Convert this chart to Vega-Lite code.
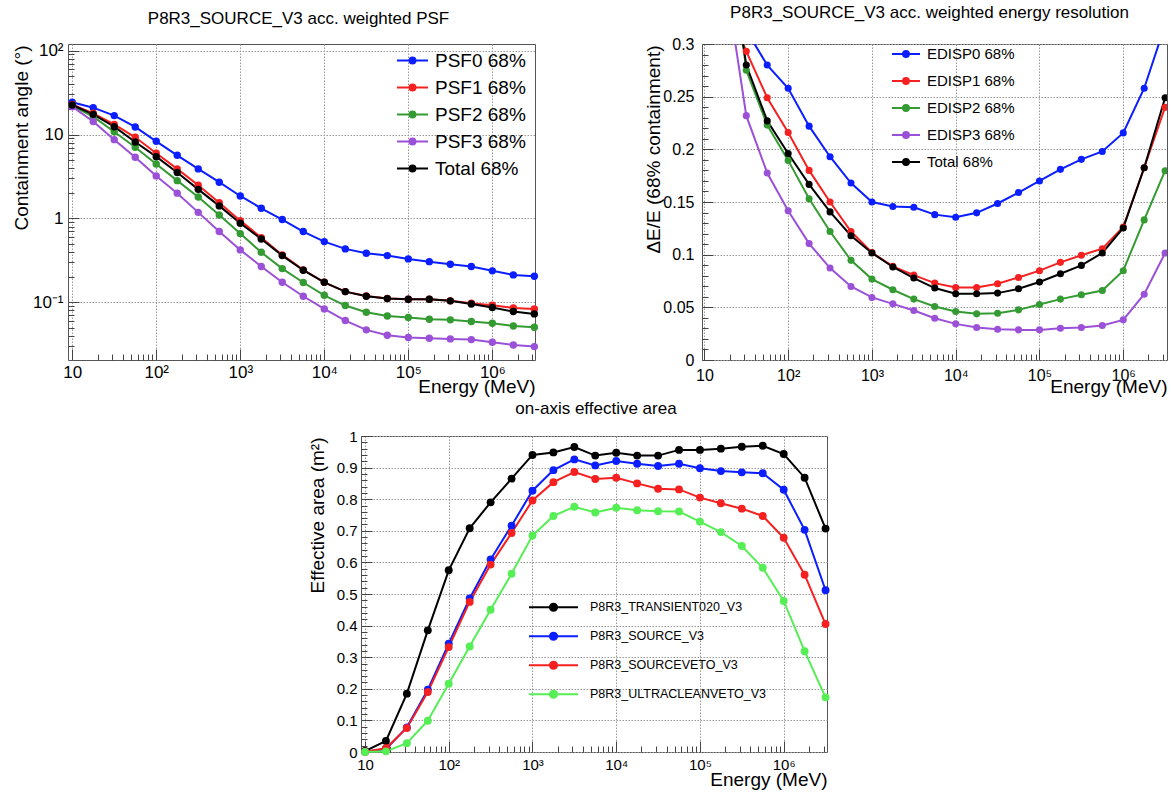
{
  "$schema": "https://vega.github.io/schema/vega-lite/v6.json",
  "padding": {"left": 11, "top": 3, "right": 0, "bottom": 0},
  "config": {
    "font": "Liberation Sans",
    "view": {"stroke": "#555", "strokeWidth": 1},
    "axis": {"domain": false, "labelFont": "Liberation Sans", "titleFont": "Liberation Sans", "labelColor": "#000", "titleColor": "#000", "titleFontWeight": "normal", "tickColor": "#444", "tickWidth": 1, "gridColor": "#999", "gridDash": [1.5, 1.5], "gridWidth": 1, "labelOverlap": false, "labelFlush": false, "labelBound": false},
    "legend": {"labelFont": "Liberation Sans", "labelColor": "#000", "title": null, "padding": 0, "labelLimit": 0},
    "title": {"font": "Liberation Sans", "fontWeight": "normal", "fontSize": 17, "color": "#000"}
  },
  "datasets": {
    "psf": [
      {"E": 10, "s": "PSF0 68%", "v": 24.2}, {"E": 17.78, "s": "PSF0 68%", "v": 20.9}, {"E": 31.62, "s": "PSF0 68%", "v": 16.8}, {"E": 56.23, "s": "PSF0 68%", "v": 12.3}, {"E": 100, "s": "PSF0 68%", "v": 8.3}, {"E": 177.8, "s": "PSF0 68%", "v": 5.65}, {"E": 316.2, "s": "PSF0 68%", "v": 3.89}, {"E": 562.3, "s": "PSF0 68%", "v": 2.7}, {"E": 1000, "s": "PSF0 68%", "v": 1.85}, {"E": 1778, "s": "PSF0 68%", "v": 1.32}, {"E": 3162, "s": "PSF0 68%", "v": 0.968}, {"E": 5623, "s": "PSF0 68%", "v": 0.697}, {"E": 10000, "s": "PSF0 68%", "v": 0.529}, {"E": 17783, "s": "PSF0 68%", "v": 0.433}, {"E": 31623, "s": "PSF0 68%", "v": 0.384}, {"E": 56234, "s": "PSF0 68%", "v": 0.36}, {"E": 100000, "s": "PSF0 68%", "v": 0.329}, {"E": 177828, "s": "PSF0 68%", "v": 0.305}, {"E": 316228, "s": "PSF0 68%", "v": 0.284}, {"E": 562341, "s": "PSF0 68%", "v": 0.267}, {"E": 1000000, "s": "PSF0 68%", "v": 0.237}, {"E": 1778279, "s": "PSF0 68%", "v": 0.212}, {"E": 3162278, "s": "PSF0 68%", "v": 0.204},
      {"E": 10, "s": "PSF1 68%", "v": 22.9}, {"E": 17.78, "s": "PSF1 68%", "v": 17.9}, {"E": 31.62, "s": "PSF1 68%", "v": 13.2}, {"E": 56.23, "s": "PSF1 68%", "v": 9.27}, {"E": 100, "s": "PSF1 68%", "v": 5.98}, {"E": 177.8, "s": "PSF1 68%", "v": 3.89}, {"E": 316.2, "s": "PSF1 68%", "v": 2.48}, {"E": 562.3, "s": "PSF1 68%", "v": 1.54}, {"E": 1000, "s": "PSF1 68%", "v": 0.94}, {"E": 1778, "s": "PSF1 68%", "v": 0.59}, {"E": 3162, "s": "PSF1 68%", "v": 0.367}, {"E": 5623, "s": "PSF1 68%", "v": 0.243}, {"E": 10000, "s": "PSF1 68%", "v": 0.173}, {"E": 17783, "s": "PSF1 68%", "v": 0.134}, {"E": 31623, "s": "PSF1 68%", "v": 0.119}, {"E": 56234, "s": "PSF1 68%", "v": 0.111}, {"E": 100000, "s": "PSF1 68%", "v": 0.1086}, {"E": 177828, "s": "PSF1 68%", "v": 0.1086}, {"E": 316228, "s": "PSF1 68%", "v": 0.104}, {"E": 562341, "s": "PSF1 68%", "v": 0.0973}, {"E": 1000000, "s": "PSF1 68%", "v": 0.0922}, {"E": 1778279, "s": "PSF1 68%", "v": 0.0857}, {"E": 3162278, "s": "PSF1 68%", "v": 0.0834},
      {"E": 10, "s": "PSF2 68%", "v": 22.0}, {"E": 17.78, "s": "PSF2 68%", "v": 16.3}, {"E": 31.62, "s": "PSF2 68%", "v": 10.8}, {"E": 56.23, "s": "PSF2 68%", "v": 7.04}, {"E": 100, "s": "PSF2 68%", "v": 4.46}, {"E": 177.8, "s": "PSF2 68%", "v": 2.82}, {"E": 316.2, "s": "PSF2 68%", "v": 1.8}, {"E": 562.3, "s": "PSF2 68%", "v": 1.1}, {"E": 1000, "s": "PSF2 68%", "v": 0.659}, {"E": 1778, "s": "PSF2 68%", "v": 0.394}, {"E": 3162, "s": "PSF2 68%", "v": 0.252}, {"E": 5623, "s": "PSF2 68%", "v": 0.172}, {"E": 10000, "s": "PSF2 68%", "v": 0.121}, {"E": 17783, "s": "PSF2 68%", "v": 0.0914}, {"E": 31623, "s": "PSF2 68%", "v": 0.076}, {"E": 56234, "s": "PSF2 68%", "v": 0.0687}, {"E": 100000, "s": "PSF2 68%", "v": 0.0657}, {"E": 177828, "s": "PSF2 68%", "v": 0.0628}, {"E": 316228, "s": "PSF2 68%", "v": 0.0617}, {"E": 562341, "s": "PSF2 68%", "v": 0.0589}, {"E": 1000000, "s": "PSF2 68%", "v": 0.0562}, {"E": 1778279, "s": "PSF2 68%", "v": 0.0522}, {"E": 3162278, "s": "PSF2 68%", "v": 0.0504},
      {"E": 10, "s": "PSF3 68%", "v": 21.5}, {"E": 17.78, "s": "PSF3 68%", "v": 14.3}, {"E": 31.62, "s": "PSF3 68%", "v": 8.69}, {"E": 56.23, "s": "PSF3 68%", "v": 5.35}, {"E": 100, "s": "PSF3 68%", "v": 3.21}, {"E": 177.8, "s": "PSF3 68%", "v": 2.0}, {"E": 316.2, "s": "PSF3 68%", "v": 1.18}, {"E": 562.3, "s": "PSF3 68%", "v": 0.697}, {"E": 1000, "s": "PSF3 68%", "v": 0.421}, {"E": 1778, "s": "PSF3 68%", "v": 0.267}, {"E": 3162, "s": "PSF3 68%", "v": 0.173}, {"E": 5623, "s": "PSF3 68%", "v": 0.118}, {"E": 10000, "s": "PSF3 68%", "v": 0.0834}, {"E": 17783, "s": "PSF3 68%", "v": 0.0605}, {"E": 31623, "s": "PSF3 68%", "v": 0.0469}, {"E": 56234, "s": "PSF3 68%", "v": 0.0405}, {"E": 100000, "s": "PSF3 68%", "v": 0.038}, {"E": 177828, "s": "PSF3 68%", "v": 0.0372}, {"E": 316228, "s": "PSF3 68%", "v": 0.0366}, {"E": 562341, "s": "PSF3 68%", "v": 0.0359}, {"E": 1000000, "s": "PSF3 68%", "v": 0.0334}, {"E": 1778279, "s": "PSF3 68%", "v": 0.031}, {"E": 3162278, "s": "PSF3 68%", "v": 0.0296},
      {"E": 10, "s": "Total 68%", "v": 22.5}, {"E": 17.78, "s": "Total 68%", "v": 17.4}, {"E": 31.62, "s": "Total 68%", "v": 12.4}, {"E": 56.23, "s": "Total 68%", "v": 8.15}, {"E": 100, "s": "Total 68%", "v": 5.45}, {"E": 177.8, "s": "Total 68%", "v": 3.52}, {"E": 316.2, "s": "Total 68%", "v": 2.22}, {"E": 562.3, "s": "Total 68%", "v": 1.41}, {"E": 1000, "s": "Total 68%", "v": 0.875}, {"E": 1778, "s": "Total 68%", "v": 0.569}, {"E": 3162, "s": "Total 68%", "v": 0.36}, {"E": 5623, "s": "Total 68%", "v": 0.241}, {"E": 10000, "s": "Total 68%", "v": 0.173}, {"E": 17783, "s": "Total 68%", "v": 0.134}, {"E": 31623, "s": "Total 68%", "v": 0.118}, {"E": 56234, "s": "Total 68%", "v": 0.1106}, {"E": 100000, "s": "Total 68%", "v": 0.1086}, {"E": 177828, "s": "Total 68%", "v": 0.1086}, {"E": 316228, "s": "Total 68%", "v": 0.104}, {"E": 562341, "s": "Total 68%", "v": 0.0955}, {"E": 1000000, "s": "Total 68%", "v": 0.0865}, {"E": 1778279, "s": "Total 68%", "v": 0.0775}, {"E": 3162278, "s": "Total 68%", "v": 0.0727}
    ],
    "edisp": [
      {"E": 10, "s": "EDISP0 68%", "v": 0.5}, {"E": 17.78, "s": "EDISP0 68%", "v": 0.42}, {"E": 31.62, "s": "EDISP0 68%", "v": 0.313}, {"E": 56.23, "s": "EDISP0 68%", "v": 0.28}, {"E": 100, "s": "EDISP0 68%", "v": 0.258}, {"E": 177.8, "s": "EDISP0 68%", "v": 0.222}, {"E": 316.2, "s": "EDISP0 68%", "v": 0.193}, {"E": 562.3, "s": "EDISP0 68%", "v": 0.168}, {"E": 1000, "s": "EDISP0 68%", "v": 0.15}, {"E": 1778, "s": "EDISP0 68%", "v": 0.1457}, {"E": 3162, "s": "EDISP0 68%", "v": 0.145}, {"E": 5623, "s": "EDISP0 68%", "v": 0.138}, {"E": 10000, "s": "EDISP0 68%", "v": 0.1356}, {"E": 17783, "s": "EDISP0 68%", "v": 0.1397}, {"E": 31623, "s": "EDISP0 68%", "v": 0.1486}, {"E": 56234, "s": "EDISP0 68%", "v": 0.159}, {"E": 100000, "s": "EDISP0 68%", "v": 0.17}, {"E": 177828, "s": "EDISP0 68%", "v": 0.181}, {"E": 316228, "s": "EDISP0 68%", "v": 0.1905}, {"E": 562341, "s": "EDISP0 68%", "v": 0.198}, {"E": 1000000, "s": "EDISP0 68%", "v": 0.2156}, {"E": 1778279, "s": "EDISP0 68%", "v": 0.258}, {"E": 3162278, "s": "EDISP0 68%", "v": 0.318},
      {"E": 10, "s": "EDISP1 68%", "v": 0.45}, {"E": 17.78, "s": "EDISP1 68%", "v": 0.34}, {"E": 31.62, "s": "EDISP1 68%", "v": 0.293}, {"E": 56.23, "s": "EDISP1 68%", "v": 0.249}, {"E": 100, "s": "EDISP1 68%", "v": 0.216}, {"E": 177.8, "s": "EDISP1 68%", "v": 0.18}, {"E": 316.2, "s": "EDISP1 68%", "v": 0.15}, {"E": 562.3, "s": "EDISP1 68%", "v": 0.122}, {"E": 1000, "s": "EDISP1 68%", "v": 0.102}, {"E": 1778, "s": "EDISP1 68%", "v": 0.0889}, {"E": 3162, "s": "EDISP1 68%", "v": 0.0806}, {"E": 5623, "s": "EDISP1 68%", "v": 0.073}, {"E": 10000, "s": "EDISP1 68%", "v": 0.0689}, {"E": 17783, "s": "EDISP1 68%", "v": 0.0689}, {"E": 31623, "s": "EDISP1 68%", "v": 0.0724}, {"E": 56234, "s": "EDISP1 68%", "v": 0.0784}, {"E": 100000, "s": "EDISP1 68%", "v": 0.0848}, {"E": 177828, "s": "EDISP1 68%", "v": 0.0927}, {"E": 316228, "s": "EDISP1 68%", "v": 0.0994}, {"E": 562341, "s": "EDISP1 68%", "v": 0.1057}, {"E": 1000000, "s": "EDISP1 68%", "v": 0.1263}, {"E": 1778279, "s": "EDISP1 68%", "v": 0.1825}, {"E": 3162278, "s": "EDISP1 68%", "v": 0.24},
      {"E": 10, "s": "EDISP2 68%", "v": 0.55}, {"E": 17.78, "s": "EDISP2 68%", "v": 0.44}, {"E": 31.62, "s": "EDISP2 68%", "v": 0.275}, {"E": 56.23, "s": "EDISP2 68%", "v": 0.223}, {"E": 100, "s": "EDISP2 68%", "v": 0.1895}, {"E": 177.8, "s": "EDISP2 68%", "v": 0.153}, {"E": 316.2, "s": "EDISP2 68%", "v": 0.122}, {"E": 562.3, "s": "EDISP2 68%", "v": 0.0946}, {"E": 1000, "s": "EDISP2 68%", "v": 0.0768}, {"E": 1778, "s": "EDISP2 68%", "v": 0.0667}, {"E": 3162, "s": "EDISP2 68%", "v": 0.0578}, {"E": 5623, "s": "EDISP2 68%", "v": 0.0508}, {"E": 10000, "s": "EDISP2 68%", "v": 0.046}, {"E": 17783, "s": "EDISP2 68%", "v": 0.0438}, {"E": 31623, "s": "EDISP2 68%", "v": 0.0444}, {"E": 56234, "s": "EDISP2 68%", "v": 0.0476}, {"E": 100000, "s": "EDISP2 68%", "v": 0.0527}, {"E": 177828, "s": "EDISP2 68%", "v": 0.0578}, {"E": 316228, "s": "EDISP2 68%", "v": 0.0619}, {"E": 562341, "s": "EDISP2 68%", "v": 0.066}, {"E": 1000000, "s": "EDISP2 68%", "v": 0.0848}, {"E": 1778279, "s": "EDISP2 68%", "v": 0.133}, {"E": 3162278, "s": "EDISP2 68%", "v": 0.1797},
      {"E": 10, "s": "EDISP3 68%", "v": 0.5}, {"E": 17.78, "s": "EDISP3 68%", "v": 0.363}, {"E": 31.62, "s": "EDISP3 68%", "v": 0.232}, {"E": 56.23, "s": "EDISP3 68%", "v": 0.1775}, {"E": 100, "s": "EDISP3 68%", "v": 0.1416}, {"E": 177.8, "s": "EDISP3 68%", "v": 0.1105}, {"E": 316.2, "s": "EDISP3 68%", "v": 0.0873}, {"E": 562.3, "s": "EDISP3 68%", "v": 0.0698}, {"E": 1000, "s": "EDISP3 68%", "v": 0.0594}, {"E": 1778, "s": "EDISP3 68%", "v": 0.0533}, {"E": 3162, "s": "EDISP3 68%", "v": 0.047}, {"E": 5623, "s": "EDISP3 68%", "v": 0.0397}, {"E": 10000, "s": "EDISP3 68%", "v": 0.0343}, {"E": 17783, "s": "EDISP3 68%", "v": 0.0308}, {"E": 31623, "s": "EDISP3 68%", "v": 0.0292}, {"E": 56234, "s": "EDISP3 68%", "v": 0.0286}, {"E": 100000, "s": "EDISP3 68%", "v": 0.0286}, {"E": 177828, "s": "EDISP3 68%", "v": 0.0302}, {"E": 316228, "s": "EDISP3 68%", "v": 0.0308}, {"E": 562341, "s": "EDISP3 68%", "v": 0.0327}, {"E": 1000000, "s": "EDISP3 68%", "v": 0.0381}, {"E": 1778279, "s": "EDISP3 68%", "v": 0.0625}, {"E": 3162278, "s": "EDISP3 68%", "v": 0.1016},
      {"E": 10, "s": "Total 68%", "v": 0.55}, {"E": 17.78, "s": "Total 68%", "v": 0.412}, {"E": 31.62, "s": "Total 68%", "v": 0.28}, {"E": 56.23, "s": "Total 68%", "v": 0.227}, {"E": 100, "s": "Total 68%", "v": 0.196}, {"E": 177.8, "s": "Total 68%", "v": 0.1667}, {"E": 316.2, "s": "Total 68%", "v": 0.1406}, {"E": 562.3, "s": "Total 68%", "v": 0.118}, {"E": 1000, "s": "Total 68%", "v": 0.1016}, {"E": 1778, "s": "Total 68%", "v": 0.0883}, {"E": 3162, "s": "Total 68%", "v": 0.0778}, {"E": 5623, "s": "Total 68%", "v": 0.0683}, {"E": 10000, "s": "Total 68%", "v": 0.0629}, {"E": 17783, "s": "Total 68%", "v": 0.0629}, {"E": 31623, "s": "Total 68%", "v": 0.0635}, {"E": 56234, "s": "Total 68%", "v": 0.0676}, {"E": 100000, "s": "Total 68%", "v": 0.074}, {"E": 177828, "s": "Total 68%", "v": 0.0819}, {"E": 316228, "s": "Total 68%", "v": 0.0898}, {"E": 562341, "s": "Total 68%", "v": 0.1016}, {"E": 1000000, "s": "Total 68%", "v": 0.1254}, {"E": 1778279, "s": "Total 68%", "v": 0.1825}, {"E": 3162278, "s": "Total 68%", "v": 0.249}
    ],
    "aeff": [
      {"E": 10, "s": "P8R3_TRANSIENT020_V3", "v": 0.003}, {"E": 17.78, "s": "P8R3_TRANSIENT020_V3", "v": 0.035}, {"E": 31.62, "s": "P8R3_TRANSIENT020_V3", "v": 0.1846}, {"E": 56.23, "s": "P8R3_TRANSIENT020_V3", "v": 0.385}, {"E": 100, "s": "P8R3_TRANSIENT020_V3", "v": 0.575}, {"E": 177.8, "s": "P8R3_TRANSIENT020_V3", "v": 0.708}, {"E": 316.2, "s": "P8R3_TRANSIENT020_V3", "v": 0.79}, {"E": 562.3, "s": "P8R3_TRANSIENT020_V3", "v": 0.865}, {"E": 1000, "s": "P8R3_TRANSIENT020_V3", "v": 0.94}, {"E": 1778, "s": "P8R3_TRANSIENT020_V3", "v": 0.948}, {"E": 3162, "s": "P8R3_TRANSIENT020_V3", "v": 0.965}, {"E": 5623, "s": "P8R3_TRANSIENT020_V3", "v": 0.938}, {"E": 10000, "s": "P8R3_TRANSIENT020_V3", "v": 0.947}, {"E": 17783, "s": "P8R3_TRANSIENT020_V3", "v": 0.938}, {"E": 31623, "s": "P8R3_TRANSIENT020_V3", "v": 0.938}, {"E": 56234, "s": "P8R3_TRANSIENT020_V3", "v": 0.956}, {"E": 100000, "s": "P8R3_TRANSIENT020_V3", "v": 0.956}, {"E": 177828, "s": "P8R3_TRANSIENT020_V3", "v": 0.96}, {"E": 316228, "s": "P8R3_TRANSIENT020_V3", "v": 0.966}, {"E": 562341, "s": "P8R3_TRANSIENT020_V3", "v": 0.969}, {"E": 1000000, "s": "P8R3_TRANSIENT020_V3", "v": 0.943}, {"E": 1778279, "s": "P8R3_TRANSIENT020_V3", "v": 0.868}, {"E": 3162278, "s": "P8R3_TRANSIENT020_V3", "v": 0.707},
      {"E": 10, "s": "P8R3_SOURCE_V3", "v": 0.001}, {"E": 17.78, "s": "P8R3_SOURCE_V3", "v": 0.0095}, {"E": 31.62, "s": "P8R3_SOURCE_V3", "v": 0.078}, {"E": 56.23, "s": "P8R3_SOURCE_V3", "v": 0.197}, {"E": 100, "s": "P8R3_SOURCE_V3", "v": 0.343}, {"E": 177.8, "s": "P8R3_SOURCE_V3", "v": 0.486}, {"E": 316.2, "s": "P8R3_SOURCE_V3", "v": 0.609}, {"E": 562.3, "s": "P8R3_SOURCE_V3", "v": 0.716}, {"E": 1000, "s": "P8R3_SOURCE_V3", "v": 0.827}, {"E": 1778, "s": "P8R3_SOURCE_V3", "v": 0.892}, {"E": 3162, "s": "P8R3_SOURCE_V3", "v": 0.926}, {"E": 5623, "s": "P8R3_SOURCE_V3", "v": 0.907}, {"E": 10000, "s": "P8R3_SOURCE_V3", "v": 0.921}, {"E": 17783, "s": "P8R3_SOURCE_V3", "v": 0.912}, {"E": 31623, "s": "P8R3_SOURCE_V3", "v": 0.905}, {"E": 56234, "s": "P8R3_SOURCE_V3", "v": 0.912}, {"E": 100000, "s": "P8R3_SOURCE_V3", "v": 0.898}, {"E": 177828, "s": "P8R3_SOURCE_V3", "v": 0.889}, {"E": 316228, "s": "P8R3_SOURCE_V3", "v": 0.885}, {"E": 562341, "s": "P8R3_SOURCE_V3", "v": 0.882}, {"E": 1000000, "s": "P8R3_SOURCE_V3", "v": 0.83}, {"E": 1778279, "s": "P8R3_SOURCE_V3", "v": 0.703}, {"E": 3162278, "s": "P8R3_SOURCE_V3", "v": 0.512},
      {"E": 10, "s": "P8R3_SOURCEVETO_V3", "v": 0.001}, {"E": 17.78, "s": "P8R3_SOURCEVETO_V3", "v": 0.012}, {"E": 31.62, "s": "P8R3_SOURCEVETO_V3", "v": 0.076}, {"E": 56.23, "s": "P8R3_SOURCEVETO_V3", "v": 0.19}, {"E": 100, "s": "P8R3_SOURCEVETO_V3", "v": 0.332}, {"E": 177.8, "s": "P8R3_SOURCEVETO_V3", "v": 0.475}, {"E": 316.2, "s": "P8R3_SOURCEVETO_V3", "v": 0.593}, {"E": 562.3, "s": "P8R3_SOURCEVETO_V3", "v": 0.693}, {"E": 1000, "s": "P8R3_SOURCEVETO_V3", "v": 0.796}, {"E": 1778, "s": "P8R3_SOURCEVETO_V3", "v": 0.854}, {"E": 3162, "s": "P8R3_SOURCEVETO_V3", "v": 0.886}, {"E": 5623, "s": "P8R3_SOURCEVETO_V3", "v": 0.864}, {"E": 10000, "s": "P8R3_SOURCEVETO_V3", "v": 0.868}, {"E": 17783, "s": "P8R3_SOURCEVETO_V3", "v": 0.85}, {"E": 31623, "s": "P8R3_SOURCEVETO_V3", "v": 0.833}, {"E": 56234, "s": "P8R3_SOURCEVETO_V3", "v": 0.831}, {"E": 100000, "s": "P8R3_SOURCEVETO_V3", "v": 0.805}, {"E": 177828, "s": "P8R3_SOURCEVETO_V3", "v": 0.787}, {"E": 316228, "s": "P8R3_SOURCEVETO_V3", "v": 0.77}, {"E": 562341, "s": "P8R3_SOURCEVETO_V3", "v": 0.747}, {"E": 1000000, "s": "P8R3_SOURCEVETO_V3", "v": 0.678}, {"E": 1778279, "s": "P8R3_SOURCEVETO_V3", "v": 0.561}, {"E": 3162278, "s": "P8R3_SOURCEVETO_V3", "v": 0.405},
      {"E": 10, "s": "P8R3_ULTRACLEANVETO_V3", "v": 0.0}, {"E": 17.78, "s": "P8R3_ULTRACLEANVETO_V3", "v": 0.002}, {"E": 31.62, "s": "P8R3_ULTRACLEANVETO_V3", "v": 0.028}, {"E": 56.23, "s": "P8R3_ULTRACLEANVETO_V3", "v": 0.099}, {"E": 100, "s": "P8R3_ULTRACLEANVETO_V3", "v": 0.216}, {"E": 177.8, "s": "P8R3_ULTRACLEANVETO_V3", "v": 0.334}, {"E": 316.2, "s": "P8R3_ULTRACLEANVETO_V3", "v": 0.45}, {"E": 562.3, "s": "P8R3_ULTRACLEANVETO_V3", "v": 0.564}, {"E": 1000, "s": "P8R3_ULTRACLEANVETO_V3", "v": 0.685}, {"E": 1778, "s": "P8R3_ULTRACLEANVETO_V3", "v": 0.747}, {"E": 3162, "s": "P8R3_ULTRACLEANVETO_V3", "v": 0.776}, {"E": 5623, "s": "P8R3_ULTRACLEANVETO_V3", "v": 0.758}, {"E": 10000, "s": "P8R3_ULTRACLEANVETO_V3", "v": 0.773}, {"E": 17783, "s": "P8R3_ULTRACLEANVETO_V3", "v": 0.765}, {"E": 31623, "s": "P8R3_ULTRACLEANVETO_V3", "v": 0.762}, {"E": 56234, "s": "P8R3_ULTRACLEANVETO_V3", "v": 0.761}, {"E": 100000, "s": "P8R3_ULTRACLEANVETO_V3", "v": 0.729}, {"E": 177828, "s": "P8R3_ULTRACLEANVETO_V3", "v": 0.696}, {"E": 316228, "s": "P8R3_ULTRACLEANVETO_V3", "v": 0.652}, {"E": 562341, "s": "P8R3_ULTRACLEANVETO_V3", "v": 0.583}, {"E": 1000000, "s": "P8R3_ULTRACLEANVETO_V3", "v": 0.478}, {"E": 1778279, "s": "P8R3_ULTRACLEANVETO_V3", "v": 0.319}, {"E": 3162278, "s": "P8R3_ULTRACLEANVETO_V3", "v": 0.173}
    ]
  },
  "spacing": 392,
  "bounds": "flush",
  "resolve": {"scale": {"color": "independent", "x": "independent", "y": "independent"}, "legend": {"color": "independent"}},
  "vconcat": [
    {
      "hconcat": [
        {
          "width": 467, "height": 316,
          "title": {"text": "P8R3_SOURCE_V3 acc. weighted PSF", "offset": 21, "dy": 20, "baseline": "alphabetic", "frame": "group", "anchor": "middle", "dx": -3},
          "data": {"name": "psf"},
          "encoding": {
            "x": {"field": "E", "type": "quantitative", "scale": {"type": "log", "domain": [8.91, 3220000], "nice": false},
              "axis": {"values": [10,20,30,40,50,60,70,80,90,100,200,300,400,500,600,700,800,900,1000,2000,3000,4000,5000,6000,7000,8000,9000,10000,20000,30000,40000,50000,60000,70000,80000,90000,100000,200000,300000,400000,500000,600000,700000,800000,900000,1000000,2000000,3000000],
                "labelExpr": "datum.value==10?'10':datum.value==100?'10²':datum.value==1000?'10³':datum.value==10000?'10⁴':datum.value==100000?'10⁵':datum.value==1000000?'10⁶':''",
                "gridOpacity": {"condition": {"test": "abs(log(datum.value)/LN10-round(log(datum.value)/LN10))<0.001", "value": 1}, "value": 0},
                "tickSize": {"condition": {"test": "abs(log(datum.value)/LN10-round(log(datum.value)/LN10))<0.001", "value": -11}, "value": -6},
                "labelFontSize": 17, "labelPadding": 15,
                "title": "Energy (MeV)", "titleFontSize": 19, "titleAnchor": "end", "titleAlign": "right", "titleBaseline": "alphabetic", "titleY": 32}},
            "y": {"field": "v", "type": "quantitative", "scale": {"type": "log", "domain": [0.0205, 120], "nice": false},
              "axis": {"values": [0.03,0.04,0.05,0.06,0.07,0.08,0.09,0.1,0.2,0.3,0.4,0.5,0.6,0.7,0.8,0.9,1,2,3,4,5,6,7,8,9,10,20,30,40,50,60,70,80,90,100],
                "labelExpr": "datum.value==100?'10²':datum.value==10?'10':datum.value==1?'1':datum.value==0.1?'10⁻¹':''",
                "gridOpacity": {"condition": {"test": "abs(log(datum.value)/LN10-round(log(datum.value)/LN10))<0.001", "value": 1}, "value": 0},
                "tickSize": {"condition": {"test": "abs(log(datum.value)/LN10-round(log(datum.value)/LN10))<0.001", "value": -11}, "value": -6},
                "labelFontSize": 17, "labelPadding": 16,
                "title": "Containment angle (°)", "titleFontSize": 19, "titleAnchor": "end", "titleAngle": 270, "titleAlign": "right", "titleBaseline": "middle", "titleX": -47, "titleY": 1}}
          },
          "layer": [
            {"mark": {"type": "line", "strokeWidth": 2},
             "encoding": {"color": {"field": "s", "type": "nominal",
               "scale": {"domain": ["PSF0 68%", "PSF1 68%", "PSF2 68%", "PSF3 68%", "Total 68%"], "range": ["#0a1eff", "#f52020", "#349a32", "#9b50d8", "#000000"]},
               "legend": {"orient": "none", "legendX": 328, "legendY": 0, "title": null,
                 "symbolType": "M-1,0L1,0M0.19,0A0.19,0.19,0,1,1,-0.19,0A0.19,0.19,0,1,1,0.19,0M0.08,0A0.08,0.08,0,1,1,-0.08,0A0.08,0.08,0,1,1,0.08,0",
                 "symbolSize": 961, "symbolStrokeWidth": 2, "labelFontSize": 19, "labelOffset": 6, "rowPadding": 0, "padding": 0}}}},
            {"mark": {"type": "point", "filled": true, "size": 55, "opacity": 1},
             "encoding": {"color": {"field": "s", "type": "nominal", "legend": null}}}
          ]
        },
        {
          "width": 465, "height": 316,
          "title": {"text": "P8R3_SOURCE_V3 acc. weighted energy resolution", "offset": 21, "dy": 20, "baseline": "alphabetic", "frame": "group", "anchor": "middle", "dx": -5},
          "data": {"name": "edisp"},
          "encoding": {
            "x": {"field": "E", "type": "quantitative", "scale": {"type": "log", "domain": [9.36, 3330000], "nice": false},
              "axis": {"values": [10,20,30,40,50,60,70,80,90,100,200,300,400,500,600,700,800,900,1000,2000,3000,4000,5000,6000,7000,8000,9000,10000,20000,30000,40000,50000,60000,70000,80000,90000,100000,200000,300000,400000,500000,600000,700000,800000,900000,1000000,2000000,3000000],
                "labelExpr": "datum.value==10?'10':datum.value==100?'10²':datum.value==1000?'10³':datum.value==10000?'10⁴':datum.value==100000?'10⁵':datum.value==1000000?'10⁶':''",
                "gridOpacity": {"condition": {"test": "abs(log(datum.value)/LN10-round(log(datum.value)/LN10))<0.001", "value": 1}, "value": 0},
                "tickSize": {"condition": {"test": "abs(log(datum.value)/LN10-round(log(datum.value)/LN10))<0.001", "value": -11}, "value": -6},
                "labelFontSize": 16, "labelPadding": 18,
                "title": "Energy (MeV)", "titleFontSize": 19, "titleAnchor": "end", "titleAlign": "right", "titleBaseline": "alphabetic", "titleY": 32}},
            "y": {"field": "v", "type": "quantitative", "scale": {"domain": [0, 0.3], "nice": false, "zero": false},
              "axis": {"values": [0,0.01,0.02,0.03,0.04,0.05,0.06,0.07,0.08,0.09,0.1,0.11,0.12,0.13,0.14,0.15,0.16,0.17,0.18,0.19,0.2,0.21,0.22,0.23,0.24,0.25,0.26,0.27,0.28,0.29,0.3],
                "labelExpr": "abs(datum.value*20-round(datum.value*20))<0.001 ? format(datum.value, '~g') : ''",
                "gridOpacity": {"condition": {"test": "abs(datum.value*20-round(datum.value*20))<0.001", "value": 1}, "value": 0},
                "tickSize": {"condition": {"test": "abs(datum.value*20-round(datum.value*20))<0.001", "value": -11}, "value": -6},
                "labelFontSize": 16, "labelPadding": 19,
                "title": "ΔE/E (68% containment)", "titleFontSize": 19, "titleAnchor": "end", "titleAngle": 270, "titleAlign": "right", "titleBaseline": "middle", "titleX": -49, "titleY": 1}}
          },
          "layer": [
            {"mark": {"type": "line", "strokeWidth": 2, "clip": true},
             "encoding": {"color": {"field": "s", "type": "nominal",
               "scale": {"domain": ["EDISP0 68%", "EDISP1 68%", "EDISP2 68%", "EDISP3 68%", "Total 68%"], "range": ["#0a1eff", "#f52020", "#349a32", "#9b50d8", "#000000"]},
               "legend": {"orient": "none", "legendX": 189, "legendY": -5, "title": null,
                 "symbolType": "M-1,0L1,0M0.21,0A0.21,0.21,0,1,1,-0.21,0A0.21,0.21,0,1,1,0.21,0M0.09,0A0.09,0.09,0,1,1,-0.09,0A0.09,0.09,0,1,1,0.09,0",
                 "symbolSize": 784, "symbolStrokeWidth": 2, "labelFontSize": 15, "labelOffset": 6, "rowPadding": 4, "padding": 0}}}},
            {"mark": {"type": "point", "filled": true, "size": 50, "opacity": 1, "clip": true},
             "encoding": {"color": {"field": "s", "type": "nominal", "legend": null}}}
          ]
        }
      ],
      "spacing": 167,
      "bounds": "flush",
      "resolve": {"scale": {"color": "independent", "x": "independent", "y": "independent"}, "legend": {"color": "independent"}}
    },
    {
      "hconcat": [
        {"width": 293, "height": 316, "data": {"values": [{"a": 0}]}, "mark": {"type": "text"}, "encoding": {"text": {"value": ""}}, "view": {"stroke": null}},
        {
          "width": 466, "height": 316,
          "title": {"text": "on-axis effective area", "offset": 19.5, "dy": 21, "baseline": "alphabetic", "frame": "group", "anchor": "middle", "dx": 2},
          "data": {"name": "aeff"},
          "encoding": {
            "x": {"field": "E", "type": "quantitative", "scale": {"type": "log", "domain": [8.96, 3290000], "nice": false},
              "axis": {"values": [10,20,30,40,50,60,70,80,90,100,200,300,400,500,600,700,800,900,1000,2000,3000,4000,5000,6000,7000,8000,9000,10000,20000,30000,40000,50000,60000,70000,80000,90000,100000,200000,300000,400000,500000,600000,700000,800000,900000,1000000,2000000,3000000],
                "labelExpr": "datum.value==10?'10':datum.value==100?'10²':datum.value==1000?'10³':datum.value==10000?'10⁴':datum.value==100000?'10⁵':datum.value==1000000?'10⁶':''",
                "gridOpacity": {"condition": {"test": "abs(log(datum.value)/LN10-round(log(datum.value)/LN10))<0.001", "value": 1}, "value": 0},
                "tickSize": {"condition": {"test": "abs(log(datum.value)/LN10-round(log(datum.value)/LN10))<0.001", "value": -11}, "value": -6},
                "labelFontSize": 15, "labelPadding": 16,
                "title": "Energy (MeV)", "titleFontSize": 19, "titleAnchor": "end", "titleAlign": "right", "titleBaseline": "alphabetic", "titleY": 33}},
            "y": {"field": "v", "type": "quantitative", "scale": {"domain": [0, 1], "nice": false},
              "axis": {"values": [0,0.02,0.04,0.06,0.08,0.1,0.12,0.14,0.16,0.18,0.2,0.22,0.24,0.26,0.28,0.3,0.32,0.34,0.36,0.38,0.4,0.42,0.44,0.46,0.48,0.5,0.52,0.54,0.56,0.58,0.6,0.62,0.64,0.66,0.68,0.7,0.72,0.74,0.76,0.78,0.8,0.82,0.84,0.86,0.88,0.9,0.92,0.94,0.96,0.98,1],
                "labelExpr": "abs(datum.value*10-round(datum.value*10))<0.001 ? format(datum.value, '~g') : ''",
                "gridOpacity": {"condition": {"test": "abs(datum.value*10-round(datum.value*10))<0.001", "value": 1}, "value": 0},
                "tickSize": {"condition": {"test": "abs(datum.value*10-round(datum.value*10))<0.001", "value": -11}, "value": -6},
                "labelFontSize": 15, "labelPadding": 15,
                "title": "Effective area (m²)", "titleFontSize": 19, "titleAnchor": "end", "titleAngle": 270, "titleAlign": "right", "titleBaseline": "middle", "titleX": -44, "titleY": 1}}
          },
          "layer": [
            {"mark": {"type": "line", "strokeWidth": 2},
             "encoding": {"color": {"field": "s", "type": "nominal",
               "scale": {"domain": ["P8R3_TRANSIENT020_V3", "P8R3_SOURCE_V3", "P8R3_SOURCEVETO_V3", "P8R3_ULTRACLEANVETO_V3"], "range": ["#000000", "#0a1eff", "#f52020", "#55ee55"]},
               "legend": {"orient": "none", "legendX": 167, "legendY": 157, "title": null,
                 "symbolType": "M-1,0L1,0M0.147,0A0.147,0.147,0,1,1,-0.147,0A0.147,0.147,0,1,1,0.147,0M0.06,0A0.06,0.06,0,1,1,-0.06,0A0.06,0.06,0,1,1,0.06,0",
                 "symbolSize": 2401, "symbolStrokeWidth": 2, "labelFontSize": 12.5, "labelOffset": 11, "labelLimit": 0, "rowPadding": 0, "clipHeight": 28.5, "padding": 0}}}},
            {"mark": {"type": "point", "filled": true, "size": 62, "opacity": 1},
             "encoding": {"color": {"field": "s", "type": "nominal", "legend": null}}}
          ]
        }
      ],
      "spacing": 0,
      "bounds": "flush",
      "resolve": {"scale": {"color": "independent", "x": "independent", "y": "independent"}, "legend": {"color": "independent"}}
    }
  ]
}
